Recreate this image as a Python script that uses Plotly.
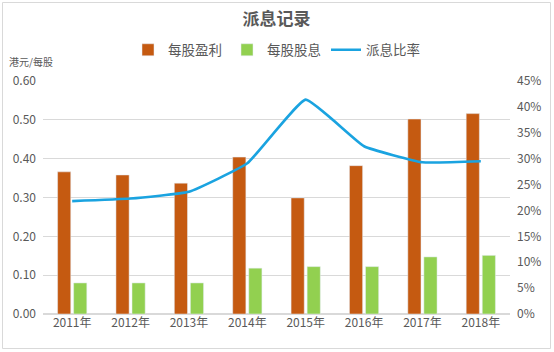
import plotly.graph_objects as go

years = ["2011年", "2012年", "2013年", "2014年", "2015年", "2016年", "2017年", "2018年"]
eps = [0.366, 0.358, 0.337, 0.404, 0.299, 0.382, 0.502, 0.516]
dps = [0.080, 0.080, 0.080, 0.118, 0.122, 0.122, 0.147, 0.151]
payout = [0.218, 0.223, 0.236, 0.291, 0.414, 0.324, 0.293, 0.295]

W, H = 554, 352
L, R, T, B = 43, 44, 81, 38
pw, ph = W - L - R, H - T - B

def px(x):
    return (x - L) / pw

def py(y):
    return (H - B - y) / ph

FONT = "Noto Sans CJK SC, Liberation Sans, sans-serif"
GRAY = "#595959"

fig = go.Figure()
fig.add_trace(go.Bar(x=years, y=eps, name="每股盈利", marker_color="#C55A11", yaxis="y"))
fig.add_trace(go.Bar(x=years, y=dps, name="每股股息", marker_color="#92D050", yaxis="y"))
fig.add_trace(go.Scatter(x=years, y=payout, name="派息比率", mode="lines",
                         line=dict(color="#1AA3E0", width=2.6, shape="spline", smoothing=0.35),
                         yaxis="y2"))

fig.update_layout(
    width=W, height=H,
    margin=dict(l=L, r=R, t=T, b=B),
    paper_bgcolor="white", plot_bgcolor="white",
    font=dict(family=FONT, color=GRAY, size=12),
    title=dict(text="<b>派息记录</b>", x=0.5, xanchor="center", xref="paper",
               y=1 - 19 / H, yref="container", yanchor="middle",
               font=dict(size=17, color=GRAY, family=FONT)),
    barmode="group", bargap=0.45, bargroupgap=0.18,
    showlegend=True,
    legend=dict(orientation="h", x=0.5, xanchor="center", y=py(50), yanchor="middle",
                font=dict(size=13.5, color=GRAY), traceorder="normal",
                itemwidth=30, bgcolor="rgba(0,0,0,0)"),
    xaxis=dict(type="category", showgrid=False, showline=False, ticks="",
               tickfont=dict(size=12, color=GRAY)),
    yaxis=dict(range=[0, 0.6], dtick=0.1, tickformat=".2f", showgrid=True,
               gridcolor="#d9d9d9", gridwidth=1, zeroline=True, zerolinecolor="#d9d9d9",
               showline=False, ticks="", ticklabelstandoff=6,
               tickfont=dict(size=12, color=GRAY)),
    yaxis2=dict(range=[0, 0.45], dtick=0.05, tickformat=".0%", overlaying="y", side="right",
                showgrid=False, zeroline=False, showline=False, ticks="", ticklabelstandoff=6,
                tickfont=dict(size=12, color=GRAY)),
    annotations=[dict(text="港元/每股", x=px(7), y=py(62), xref="paper", yref="paper",
                      xanchor="left", yanchor="middle", showarrow=False,
                      font=dict(size=10, color=GRAY))],
    shapes=[dict(type="rect", xref="paper", yref="paper",
                 x0=px(2.5), x1=px(550.5), y0=py(348.5), y1=py(2.5),
                 line=dict(color="#d9d9d9", width=1), layer="below")],
)

fig.write_html("out.html")
